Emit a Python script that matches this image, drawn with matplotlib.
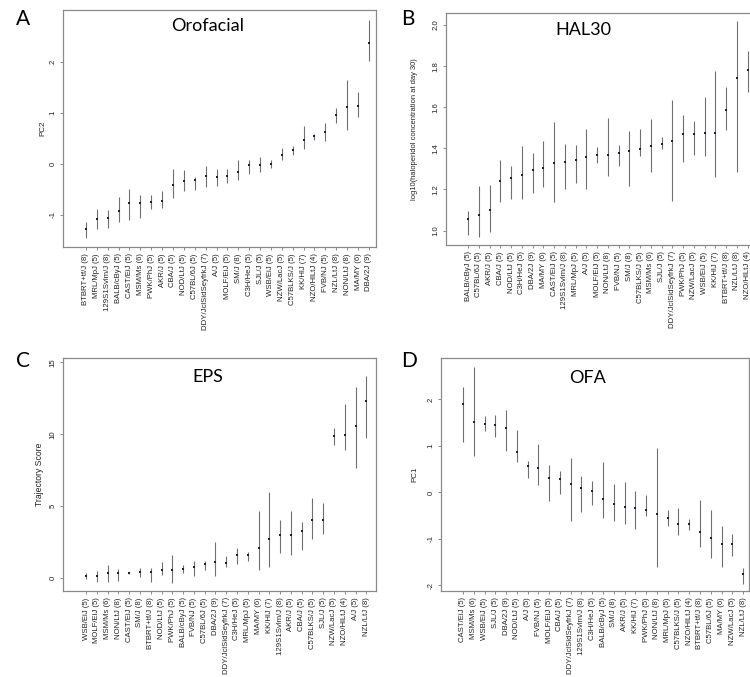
import matplotlib
matplotlib.use("Agg")
import matplotlib.pyplot as plt

# ---- data: mean and range per strain ----
A_labels = ["BTBRT+tf/J (8)", "MRL/MpJ (5)", "129S1Svlm/J (8)", "BALB/cByJ (5)", "CAST/EiJ (5)",
            "MSM/Ms (6)", "PWK/PhJ (5)", "AKR/J (5)", "CBA/J (5)", "NOD/LtJ (5)", "C57BL/6J (5)",
            "DDY/JclSidSeyfrkJ (7)", "A/J (5)", "MOLF/EiJ (5)", "SM/J (8)", "C3H/HeJ (5)", "SJL/J (5)",
            "WSB/EiJ (5)", "NZW/LacJ (5)", "C57BLKS/J (5)", "KK/HlJ (7)", "NZO/HlLtJ (4)", "FVB/NJ (5)",
            "NZL/LtJ (8)", "NON/LtJ (8)", "MA/MY (6)", "DBA/2J (9)"]
A_mean = [-1.28, -1.08, -1.07, -0.92, -0.77, -0.76, -0.74, -0.73, -0.41, -0.33, -0.31, -0.24, -0.25,
          -0.23, -0.15, -0.03, -0.02, 0.0, 0.17, 0.28, 0.47, 0.54, 0.63, 0.96, 1.12, 1.14, 2.37]
A_lo = [-1.46, -1.28, -1.26, -1.13, -1.10, -1.07, -0.89, -0.86, -0.67, -0.54, -0.51, -0.46, -0.44,
        -0.38, -0.31, -0.20, -0.15, -0.08, 0.08, 0.18, 0.29, 0.46, 0.44, 0.81, 0.67, 0.93, 2.02]
A_hi = [-1.13, -0.89, -0.90, -0.65, -0.49, -0.61, -0.61, -0.53, -0.10, -0.12, -0.25, -0.04, -0.10,
        -0.10, 0.08, 0.08, 0.14, 0.08, 0.31, 0.36, 0.75, 0.59, 0.80, 1.09, 1.65, 1.42, 2.82]

B_labels = ["BALB/cByJ (5)", "C57BL/6J (5)", "AKR/J (5)", "CBA/J (5)", "NOD/LtJ (5)", "C3H/HeJ (5)",
            "DBA/2J (9)", "MA/MY (6)", "CAST/EiJ (5)", "129S1Svlm/J (8)", "MRL/MpJ (5)", "A/J (5)",
            "MOLF/EiJ (5)", "NON/LtJ (8)", "FVB/NJ (5)", "SM/J (8)", "C57BLKS/J (5)", "MSM/Ms (6)",
            "SJL/J (5)", "DDY/JclSidSeyfrkJ (7)", "PWK/PhJ (5)", "NZW/LacJ (5)", "WSB/EiJ (5)",
            "KK/HlJ (7)", "BTBRT+tf/J (8)", "NZL/LtJ (8)", "NZO/HlLtJ (4)"]
B_mean = [1.058, 1.074, 1.099, 1.239, 1.256, 1.269, 1.293, 1.304, 1.329, 1.333, 1.345, 1.358, 1.369,
          1.369, 1.377, 1.388, 1.398, 1.409, 1.421, 1.437, 1.469, 1.471, 1.474, 1.474, 1.587, 1.741, 1.782]
B_lo = [0.977, 0.969, 0.994, 1.139, 1.154, 1.155, 1.183, 1.21, 1.139, 1.204, 1.232, 1.204, 1.329,
        1.264, 1.312, 1.215, 1.361, 1.285, 1.397, 1.146, 1.333, 1.366, 1.361, 1.261, 1.49, 1.285, 1.676]
B_hi = [1.097, 1.215, 1.223, 1.345, 1.312, 1.409, 1.377, 1.438, 1.528, 1.421, 1.414, 1.495, 1.406,
        1.547, 1.417, 1.482, 1.495, 1.542, 1.455, 1.636, 1.563, 1.531, 1.649, 1.777, 1.696, 2.02, 1.874]

C_labels = ["WSB/EiJ (5)", "MOLF/EiJ (5)", "MSM/Ms (6)", "NON/LtJ (8)", "CAST/EiJ (5)", "SM/J (8)",
            "BTBRT+tf/J (8)", "NOD/LtJ (5)", "PWK/PhJ (5)", "BALB/cByJ (5)", "FVB/NJ (5)", "C57BL/6J (5)",
            "DBA/2J (9)", "DDY/JclSidSeyfrkJ (7)", "C3H/HeJ (5)", "MRL/MpJ (5)", "MA/MY (6)", "KK/HlJ (7)",
            "129S1Svlm/J (8)", "AKR/J (5)", "CBA/J (5)", "C57BLKS/J (5)", "SJL/J (5)", "NZW/LacJ (5)",
            "NZO/HlLtJ (4)", "A/J (5)", "NZL/LtJ (8)"]
C_mean = [0.19, 0.15, 0.39, 0.39, 0.35, 0.46, 0.46, 0.58, 0.58, 0.65, 0.81, 0.97, 1.16, 1.09, 1.62,
          1.62, 2.08, 2.71, 3.01, 3.01, 3.29, 4.05, 4.05, 9.88, 9.95, 10.58, 12.31]
C_lo = [-0.05, -0.28, -0.28, -0.19, 0.28, 0.12, -0.28, 0.23, -0.35, 0.35, 0.19, 0.58, 0.19, 0.76,
        0.97, 1.2, 0.58, 0.81, 1.74, 1.62, 1.97, 2.73, 3.08, 9.26, 8.91, 7.64, 9.77]
C_hi = [0.35, 0.5, 0.93, 0.63, 0.42, 0.74, 0.69, 1.16, 1.62, 0.93, 1.23, 1.23, 2.55, 1.57, 2.08,
        1.85, 4.68, 6.02, 4.05, 4.68, 3.89, 5.56, 5.21, 10.42, 12.1, 13.3, 14.05]

D_labels = ["CAST/EiJ (5)", "MSM/Ms (6)", "WSB/EiJ (5)", "SJL/J (5)", "DBA/2J (9)", "NOD/LtJ (5)",
            "A/J (5)", "FVB/NJ (5)", "MOLF/EiJ (5)", "CBA/J (5)", "DDY/JclSidSeyfrkJ (7)",
            "129S1Svlm/J (8)", "C3H/HeJ (5)", "BALB/cByJ (5)", "SM/J (8)", "AKR/J (5)", "KK/HlJ (7)",
            "PWK/PhJ (5)", "NON/LtJ (8)", "MRL/MpJ (5)", "C57BLKS/J (5)", "NZO/HlLtJ (4)",
            "BTBRT+tf/J (8)", "C57BL/6J (5)", "MA/MY (6)", "NZW/LacJ (5)", "NZL/LtJ (8)"]
D_mean = [1.90, 1.52, 1.48, 1.45, 1.38, 0.86, 0.57, 0.52, 0.30, 0.28, 0.18, 0.09, 0.03, -0.15, -0.26,
          -0.31, -0.33, -0.37, -0.47, -0.55, -0.67, -0.67, -0.85, -0.99, -1.12, -1.12, -1.76]
D_lo = [1.09, 0.79, 1.32, 1.20, 0.89, 0.65, 0.32, 0.16, -0.18, -0.04, -0.62, -0.42, -0.27, -0.55,
        -0.61, -0.69, -0.79, -0.51, -1.61, -0.72, -0.92, -0.80, -1.17, -1.40, -1.61, -1.37, -1.98]
D_hi = [2.27, 2.69, 1.65, 1.66, 1.78, 1.34, 0.68, 1.05, 0.59, 0.46, 0.75, 0.36, 0.24, 0.66, 0.17,
        0.23, 0.03, -0.06, 0.96, -0.37, -0.33, -0.58, -0.17, -0.38, -0.72, -0.90, -1.62]

W, H = 750, 677
fig = plt.figure(figsize=(7.5, 6.77), dpi=100)
plt.rcParams['font.family'] = ['Liberation Sans', 'DejaVu Sans']


def panel(box, labels, mean, lo, hi, xlim, ylim, yticks, yfmt, ylabel, ylab_x, ylab_fs):
    # box in pixels: left, top, right, bottom
    l, t, r, b = box
    ax = fig.add_axes([l / W, 1 - b / H, (r - l) / W, (b - t) / H])
    x = list(range(len(labels)))
    ax.vlines(x, lo, hi, color='#6f6f6f', lw=0.8)
    ax.plot(x, mean, 's', color='#1c1c4c', ms=2.0, mew=0)
    ax.set_xlim(*xlim)
    ax.set_ylim(*ylim)
    ax.set_xticks(x)
    ax.set_xticklabels(labels, rotation=90, fontsize=5.6, color='#222222')
    ax.set_yticks(yticks)
    ax.set_yticklabels([yfmt.format(v) for v in yticks], rotation=90, va='center',
                       fontsize=5.6, color='#222222')
    ax.tick_params(length=2.5, width=0.6, color='#777777', pad=2)
    for s in ax.spines.values():
        s.set_color('#8a8a8a')
        s.set_linewidth(0.9)
    fig.text(ylab_x / W, 1 - (t + b) / 2 / H, ylabel, rotation=90, ha='center', va='center',
             fontsize=ylab_fs, color='#222222')
    return ax


panel((63, 10, 376, 247), A_labels, A_mean, A_lo, A_hi, (-2.1, 26.65), (-1.63, 3.02),
      [-1, 0, 1, 2], "{:g}", "PC2", 43, 5.8)
panel((446, 13, 752, 245), B_labels, B_mean, B_lo, B_hi, (-2.07, 26.4), (0.93, 2.058),
      [1.0, 1.2, 1.4, 1.6, 1.8, 2.0], "{:.1f}", "log10(haloperidol concentration at day 30)", 414, 5.4)
panel((63, 358, 376, 591), C_labels, C_mean, C_lo, C_hi, (-2.14, 26.9), (-0.88, 15.3),
      [0, 5, 10, 15], "{:g}", "Trajectory Score", 39, 6.2)
panel((441, 358, 749, 591), D_labels, D_mean, D_lo, D_hi, (-2.04, 26.55), (-2.12, 2.89),
      [-2, -1, 0, 1, 2], "{:g}", "PC1", 415, 5.8)

# panel letters and titles
for letter, px, py in [("A", 23, 19), ("B", 408, 19), ("C", 23, 361), ("D", 409, 361)]:
    fig.text(px / W, 1 - py / H, letter, ha='center', va='center', fontsize=15,
             family=['Lato', 'DejaVu Sans'])
for title, px, py in [("Orofacial", 208, 26), ("HAL30", 583, 30), ("EPS", 208, 377), ("OFA", 587, 378)]:
    fig.text(px / W, 1 - py / H, title, ha='center', va='center', fontsize=13,
             family=['Lato', 'DejaVu Sans'])

fig.savefig("out.png", dpi=100)
